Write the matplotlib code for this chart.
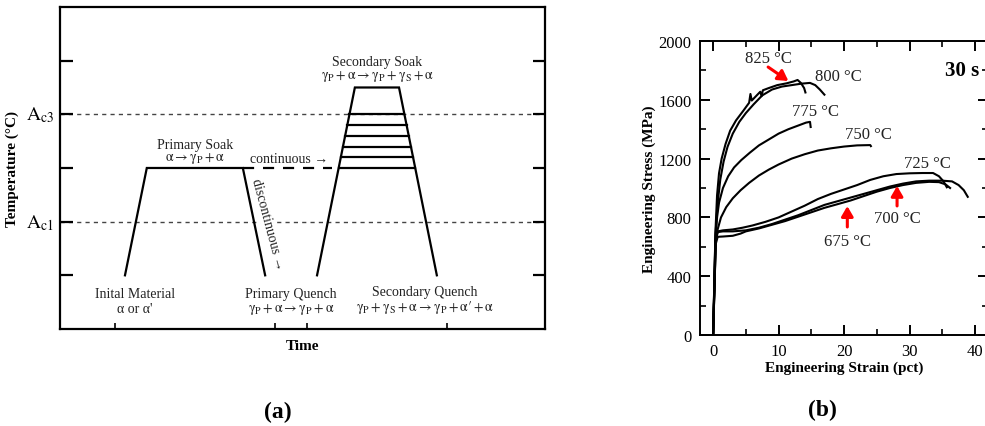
import matplotlib
matplotlib.use("Agg")
import matplotlib.pyplot as plt
import numpy as np

plt.rcParams["font.family"] = ["Liberation Serif", "DejaVu Serif"]
plt.rcParams["mathtext.fontset"] = "stix"

# ---- panel (a): heat treatment schedule (time / temperature in arbitrary units)
primaryTime = [1.34, 1.79, 3.77, 4.23]
primaryTemp = [1, 3, 3, 1]
continuousTime = [3.77, 5.61]
continuousTemp = [3, 3]
secondaryTime = [5.30, 6.08, 6.99, 7.77]
secondaryTemp = [1, 4.5, 4.5, 1]
soakLevels = [3.0, 3.2, 3.4, 3.6, 3.8, 4.0]
criticalTemps = [2, 4]
criticalLabels = [r"$\mathrm{A_{c1}}$", r"$\mathrm{A_{c3}}$"]
timeTicks = [1.13, 4.43, 5.09, 7.98]

# ---- panel (b): stress-strain curves
strain825 = [0, 0.35, 0.6, 0.9, 1.3, 1.9, 2.6, 3.5, 4.6, 5.5, 5.7, 5.9, 7.2, 7.4, 7.6, 8.5, 9.8, 11.2, 12.3, 12.9, 13.4, 13.9, 14.1]
stress825 = [0, 700, 950, 1100, 1200, 1300, 1390, 1460, 1525, 1580, 1640, 1595, 1655, 1625, 1665, 1680, 1700, 1712, 1725, 1735, 1715, 1680, 1650]
strain800 = [0, 0.35, 0.7, 1.1, 1.6, 2.2, 3.0, 4.0, 5.0, 6.2, 7.5, 9, 10.5, 12, 13.5, 14.8, 15.6, 16.3, 17.0]
stress800 = [0, 680, 900, 1060, 1180, 1280, 1370, 1450, 1510, 1570, 1630, 1670, 1690, 1700, 1710, 1715, 1700, 1670, 1635]
strain775 = [0, 0.35, 0.6, 0.9, 1.5, 2.3, 3.2, 4.3, 5.6, 7.0, 8.5, 10, 11.5, 13, 14.2, 14.8, 14.9]
stress775 = [0, 650, 800, 900, 1000, 1080, 1140, 1190, 1240, 1290, 1330, 1370, 1400, 1425, 1445, 1450, 1415]
strain750 = [0, 0.35, 0.7, 1.2, 2, 3, 4.2, 5.5, 7, 8.5, 10, 12, 14, 16, 18, 20, 22, 24, 24.1]
stress750 = [0, 620, 720, 800, 870, 930, 985, 1035, 1085, 1125, 1160, 1200, 1230, 1255, 1270, 1282, 1290, 1292, 1285]
strain725 = [0, 0.4, 0.7, 1.5, 3, 4.5, 6, 8, 10, 12, 14, 16, 18, 20, 22, 24, 26, 28, 30, 32, 33.6, 34.5, 35.2, 35.7]
stress725 = [0, 650, 705, 712, 718, 730, 745, 770, 800, 840, 880, 925, 960, 990, 1020, 1055, 1080, 1095, 1100, 1102, 1102, 1080, 1045, 1005]
strain700 = [0, 0.4, 0.7, 1.5, 3, 5, 7, 9, 11, 13, 15, 17, 19, 21, 23, 25, 27, 29, 31, 33, 35, 36.5, 37.5, 38.3, 38.9]
stress700 = [0, 640, 700, 705, 705, 712, 730, 755, 785, 815, 850, 885, 910, 935, 960, 985, 1010, 1030, 1045, 1050, 1050, 1045, 1020, 985, 940]
strain675 = [0, 0.4, 0.7, 1.5, 3, 4.2, 5, 7, 9, 11, 13, 15, 17, 19, 21, 23, 25, 27, 29, 31, 33, 34.5, 35.5, 36.2]
stress675 = [0, 620, 668, 670, 675, 690, 705, 725, 750, 775, 805, 835, 865, 890, 915, 945, 975, 1000, 1020, 1035, 1042, 1040, 1025, 1000]

fig = plt.figure(figsize=(9.85, 4.27), dpi=100)

# ------------------------------------------------------------ panel (a)
axA = fig.add_axes([0.0609, 0.2272, 0.4924, 0.7541])
axA.set_xlim(0, 10)
axA.set_ylim(0, 6)
for s in axA.spines.values():
    s.set_linewidth(1.6)

for level in criticalTemps:
    axA.axhline(level, color="#444444", lw=1.0, ls=(0, (3, 3)), zorder=1)

axA.plot(primaryTime, primaryTemp, color="black", lw=1.6, solid_joinstyle="miter")
axA.plot(continuousTime, continuousTemp, color="black", lw=1.6, ls=(0, (5, 4)))
axA.plot(secondaryTime, secondaryTemp, color="black", lw=1.6, solid_joinstyle="miter")
for level in soakLevels:
    left = np.interp(level, secondaryTemp[:2], secondaryTime[:2])
    right = np.interp(-level, [-secondaryTemp[2], -secondaryTemp[3]], secondaryTime[2:])
    axA.plot([left, right], [level, level], color="black", lw=1.6, zorder=3)

axA.set_yticks([1, 2, 3, 4, 5])
axA.set_yticklabels([])
axA.set_xticks(timeTicks)
axA.set_xticklabels([])
axA.tick_params(axis="y", direction="in", length=9, width=1.6, left=True, right=True)
axA.tick_params(axis="x", direction="in", length=4, width=1.2)

for level, lab in zip(criticalTemps, criticalLabels):
    axA.text(-0.12, level, lab, fontsize=14, ha="right", va="center", clip_on=False)

gP = r"\gamma_{P}"
gS = r"\gamma_{S}"
txt = dict(ha="center", va="center", fontsize=10, color="#222222")
axA.text(2.78, 3.44, "Primary Soak", **txt)
axA.text(2.78, 3.20, r"$\mathrm{\alpha \rightarrow %s + \alpha}$" % gP, **txt)
axA.text(4.72, 3.17, "continuous \u2192", **txt)
axA.text(4.28, 1.97, "discontinuous \u2192", rotation=-75, rotation_mode="anchor",
         bbox=dict(facecolor="white", edgecolor="none", pad=0.5), **txt)
axA.text(6.54, 4.99, "Secondary Soak", **txt)
axA.text(6.54, 4.73, r"$\mathrm{%s + \alpha \rightarrow %s + %s + \alpha}$" % (gP, gP, gS), **txt)
axA.text(1.55, 0.66, "Inital Material", **txt)
axA.text(1.55, 0.38, "\u03b1 or \u03b1'", **txt)
axA.text(4.76, 0.66, "Primary Quench", **txt)
axA.text(4.76, 0.38, r"$\mathrm{%s + \alpha \rightarrow %s + \alpha}$" % (gP, gP), **txt)
axA.text(7.53, 0.69, "Secondary Quench", **txt)
axA.text(7.53, 0.41, r"$\mathrm{%s+ %s + \alpha \rightarrow %s + \alpha\prime + \alpha}$" % (gP, gS, gP), **txt)

axA.set_xlabel("Time", fontsize=11, fontweight="bold", labelpad=4)
axA.set_ylabel("Temperature (\u00b0C)", fontsize=11, fontweight="bold", labelpad=26)

# ------------------------------------------------------------ panel (b)
axB = fig.add_axes([0.7107, 0.2131, 0.2924, 0.6885])
axB.set_xlim(-2, 42)
axB.set_ylim(0, 2000)
for s in axB.spines.values():
    s.set_linewidth(1.4)

curves = [(strain825, stress825), (strain800, stress800), (strain775, stress775),
          (strain750, stress750), (strain725, stress725), (strain700, stress700),
          (strain675, stress675)]
for xs, ys in curves:
    axB.plot(xs, ys, color="black", lw=1.5)

axB.set_xticks([0, 10, 20, 30, 40])
axB.set_xticks([5, 15, 25, 35], minor=True)
axB.set_yticks([0, 400, 800, 1200, 1600, 2000])
axB.set_yticks([200, 600, 1000, 1400, 1800], minor=True)
axB.tick_params(which="major", direction="in", length=7, width=1.4, top=True, right=True,
                labelsize=12, pad=6)
axB.tick_params(which="minor", direction="in", length=4, width=1.2, top=True, right=True)
axB.set_xlabel("Engineering Strain (pct)", fontsize=11, fontweight="bold", labelpad=1)
axB.set_ylabel("Engineering Stress (MPa)", fontsize=11, fontweight="bold", labelpad=2)

lbl = dict(ha="center", va="center", fontsize=12, color="#222222")
axB.text(8.4, 1884, "825 \u00b0C", **lbl)
axB.text(19.1, 1762, "800 \u00b0C", **lbl)
axB.text(15.6, 1524, "775 \u00b0C", **lbl)
axB.text(23.7, 1367, "750 \u00b0C", **lbl)
axB.text(32.7, 1170, "725 \u00b0C", **lbl)
axB.text(28.1, 796, "700 \u00b0C", **lbl)
axB.text(20.5, 639, "675 \u00b0C", **lbl)
axB.text(38.0, 1800, "30 s", ha="center", va="center", fontsize=15, fontweight="bold")

arrow = dict(arrowstyle="-|>,head_width=0.35,head_length=0.6", color="red", lw=2.2,
             shrinkA=0, shrinkB=0)
axB.annotate("", xy=(11.5, 1728), xytext=(8.4, 1823), arrowprops=arrow)
axB.annotate("", xy=(28.1, 1014), xytext=(28.1, 878), arrowprops=arrow)
axB.annotate("", xy=(20.5, 877), xytext=(20.5, 735), arrowprops=arrow)

fig.text(278 / 985, 1 - 412 / 427, "(a)", ha="center", va="center", fontsize=17,
         fontweight="bold")
fig.text(822 / 985, 1 - 410 / 427, "(b)", ha="center", va="center", fontsize=17,
         fontweight="bold")

fig.savefig("out.png", dpi=100)
